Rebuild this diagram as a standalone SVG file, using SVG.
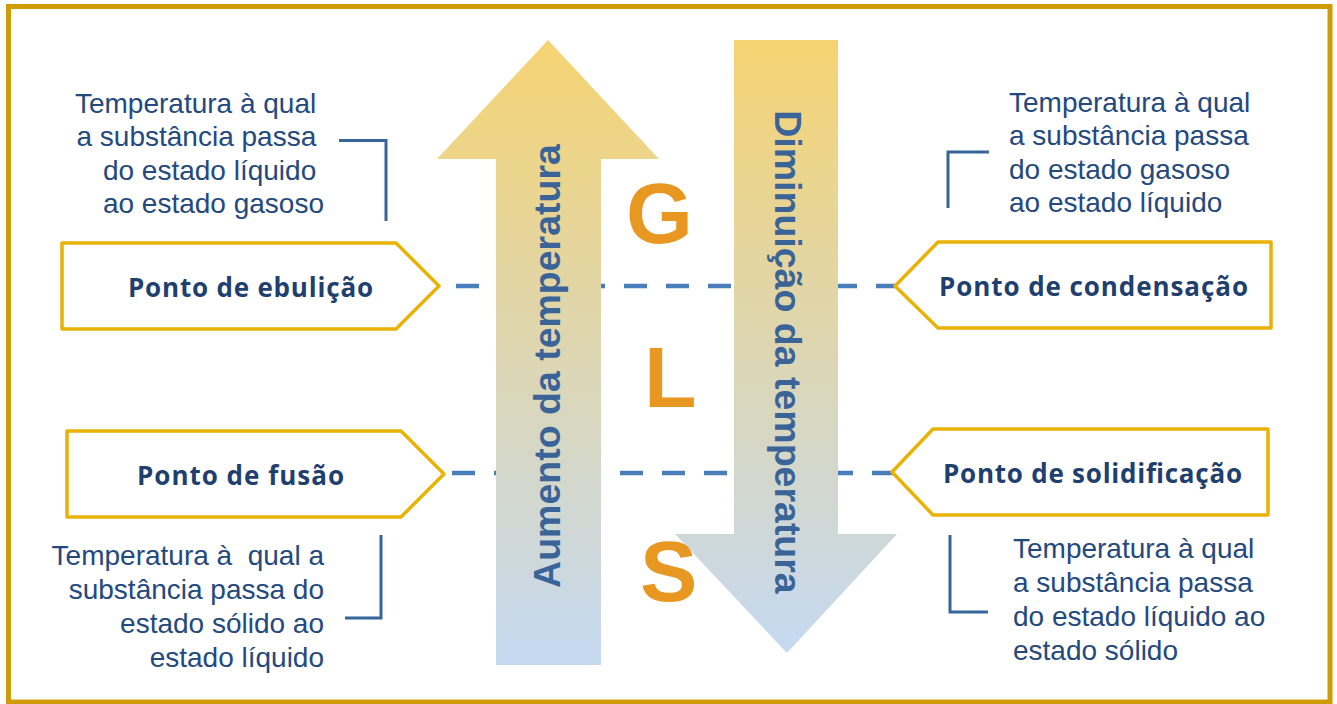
<svg xmlns="http://www.w3.org/2000/svg" width="1337" height="704" viewBox="0 0 1337 704">
  <style>
    .frame { fill: #ffffff; stroke: #CF9C08; stroke-width: 5; }
    .tag { fill: #ffffff; stroke: #E9B204; stroke-width: 3.5; stroke-linejoin: round; }
    .tag-text { font-family: "Open Sans", Lato, sans-serif; font-weight: 700; font-size: 26px; fill: #1F3F6E; }
    .desc { font-family: "Liberation Sans", Arial, sans-serif; font-size: 28px; fill: #24497E; }
    .bracket { fill: none; stroke: #37649A; stroke-width: 3; }
    .dash { fill: none; stroke: #4A7EBB; stroke-width: 4.5; stroke-dasharray: 23 19; }
    .arrow-text { font-family: "Liberation Sans", Arial, sans-serif; font-weight: 700; font-size: 37.5px; fill: #3A6497; }
    .phase { font-family: "Liberation Sans", Arial, sans-serif; font-weight: 700; font-size: 86px; fill: #E89820; }
  </style>
  <defs>
    <linearGradient id="gradUp" gradientUnits="userSpaceOnUse" x1="0" y1="40" x2="0" y2="665">
      <stop offset="0" stop-color="#F5D372"/>
      <stop offset="1" stop-color="#C5D9F1"/>
    </linearGradient>
    <linearGradient id="gradDown" gradientUnits="userSpaceOnUse" x1="0" y1="40" x2="0" y2="653">
      <stop offset="0" stop-color="#F5D372"/>
      <stop offset="1" stop-color="#C5D9F1"/>
    </linearGradient>
  </defs>

  <!-- outer frame -->
  <rect class="frame" x="8.5" y="6.5" width="1321.5" height="695.5"/>

  <!-- dashed guide lines (behind the arrows) -->
  <g id="connectors">
    <path class="dash" d="M456 286 H895"/>
    <path class="dash" d="M452 473 H893"/>
  </g>

  <!-- rising temperature arrow -->
  <g id="arrow-up">
    <polygon points="548,40 659,159 601,159 601,665 496,665 496,159 437,159" fill="url(#gradUp)"/>
    <text class="arrow-text" transform="translate(560 366) rotate(-90)" text-anchor="middle">Aumento da temperatura</text>
  </g>

  <!-- falling temperature arrow -->
  <g id="arrow-down">
    <polygon points="734,40 838,40 838,534 897,534 787,653 675,534 734,534" fill="url(#gradDown)"/>
    <text class="arrow-text" transform="translate(775 352) rotate(90)" text-anchor="middle">Diminuição da temperatura</text>
  </g>

  <!-- phase letters -->
  <g id="phases">
    <text class="phase" x="626" y="243">G</text>
    <text class="phase" x="644" y="407">L</text>
    <text class="phase" x="640" y="601">S</text>
  </g>

  <!-- boiling point -->
  <g id="ponto-ebulicao">
    <polygon class="tag" points="62,243 396,243 439,286 396,329 62,329"/>
    <text class="tag-text" x="128" y="297" textLength="245" lengthAdjust="spacing">Ponto de ebulição</text>
    <path class="bracket" d="M339 140.5 H386 V221"/>
    <text class="desc" text-anchor="end">
      <tspan x="324" y="113">Temperatura à qual</tspan>
      <tspan x="324" y="146.3">a substância passa</tspan>
      <tspan x="324" y="179.6">do estado líquido</tspan>
      <tspan x="324" y="213">ao estado gasoso</tspan>
    </text>
  </g>

  <!-- melting point -->
  <g id="ponto-fusao">
    <polygon class="tag" points="67,431 401,431 444,474 401,517 67,517"/>
    <text class="tag-text" x="137" y="485" textLength="207" lengthAdjust="spacing">Ponto de fusão</text>
    <path class="bracket" d="M381 535 V618 H345"/>
    <text class="desc" text-anchor="end" xml:space="preserve"><tspan x="324" y="565">Temperatura à  qual a</tspan><tspan x="324" y="599">substância passa do</tspan><tspan x="324" y="633">estado sólido ao</tspan><tspan x="324" y="667">estado líquido</tspan></text>
  </g>

  <!-- condensation point -->
  <g id="ponto-condensacao">
    <polygon class="tag" points="895,286 938,242 1271,242 1271,328 938,328"/>
    <text class="tag-text" x="939" y="296" textLength="309" lengthAdjust="spacing">Ponto de condensação</text>
    <path class="bracket" d="M989 152 H948 V208"/>
    <text class="desc">
      <tspan x="1009" y="112">Temperatura à qual</tspan>
      <tspan x="1009" y="145.3">a substância passa</tspan>
      <tspan x="1009" y="178.6">do estado gasoso</tspan>
      <tspan x="1009" y="212">ao estado líquido</tspan>
    </text>
  </g>

  <!-- solidification point -->
  <g id="ponto-solidificacao">
    <polygon class="tag" points="892,472 933,429 1268,429 1268,515 933,515"/>
    <text class="tag-text" x="943" y="483" textLength="299" lengthAdjust="spacing">Ponto de solidificação</text>
    <path class="bracket" d="M950 535 V612 H988"/>
    <text class="desc">
      <tspan x="1013" y="558">Temperatura à qual</tspan>
      <tspan x="1013" y="592">a substância passa</tspan>
      <tspan x="1013" y="626">do estado líquido ao</tspan>
      <tspan x="1013" y="660">estado sólido</tspan>
    </text>
  </g>
</svg>
